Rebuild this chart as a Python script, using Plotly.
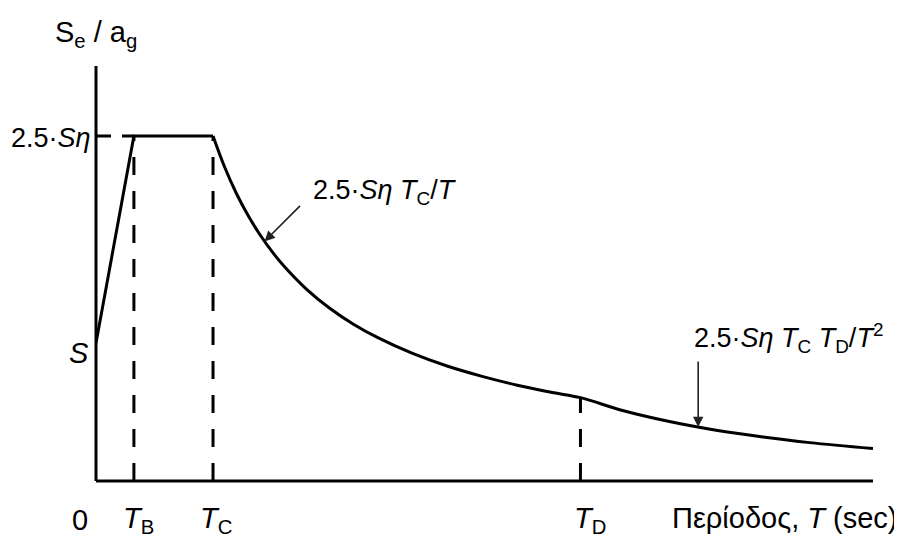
import plotly.graph_objects as go

# ---- data ----
S_VAL = 1.0          # Se/ag at T = 0
PLATEAU = 2.5        # 2.5*S*eta
T_B = 0.162
T_C = 0.50
T_D = 2.07

# linear part: 0 -> T_B -> T_C
T_lin = [0.0, T_B, T_C]
Se_lin = [S_VAL, PLATEAU, PLATEAU]

# descending branch
T_curve = [0.50, 0.55, 0.60, 0.65, 0.70, 0.75, 0.80, 0.90, 1.00, 1.10, 1.20, 1.35,
           1.50, 1.65, 1.80, 1.95, 2.07, 2.25, 2.45, 2.65, 2.85, 3.05, 3.32]
Se_curve = [2.500, 2.273, 2.083, 1.923, 1.786, 1.667, 1.563, 1.389, 1.250, 1.136, 1.042, 0.926,
            0.833, 0.758, 0.694, 0.641, 0.604, 0.511, 0.431, 0.368, 0.319, 0.278, 0.235]
Se_at_TD = 0.604

# arrow targets on the curve
arrow1_T, arrow1_Se = 0.72, 1.736
arrow2_T, arrow2_Se = 2.573, 0.391

x_labels = ["0", "<i>T</i><sub>B</sub>", "<i>T</i><sub>C</sub>", "<i>T</i><sub>D</sub>"]

FONT = "Liberation Sans, Arial, sans-serif"
FS = 29
FS_SMALL = 27
BLACK = "#000000"

fig = go.Figure()

# dashed guide lines
dash = "18px,16px"
for xv, ytop in [(T_B, PLATEAU), (T_C, PLATEAU), (T_D, Se_at_TD)]:
    fig.add_trace(go.Scatter(x=[xv, xv], y=[0, ytop], mode="lines",
                             line=dict(color=BLACK, width=3, dash=dash), hoverinfo="skip"))
fig.add_trace(go.Scatter(x=[0, T_B], y=[PLATEAU, PLATEAU], mode="lines",
                         line=dict(color=BLACK, width=3, dash="15px,11px"), hoverinfo="skip"))

# spectrum
fig.add_trace(go.Scatter(x=T_lin, y=Se_lin, mode="lines",
                         line=dict(color=BLACK, width=3), hoverinfo="skip"))
fig.add_trace(go.Scatter(x=T_curve, y=Se_curve, mode="lines", line_shape="spline",
                         line=dict(color=BLACK, width=3), hoverinfo="skip"))

# page body has an 8px margin, so the figure is 8px smaller and shifted
W, H = 894, 538
ML, MR, MT, MB = 88, 29, 58, 65
X_MAX = 3.32
Y_MAX = 3.007
plot_h = H - MT - MB
plot_w = W - ML - MR

def py(px):   # screen pixel y -> paper y
    return (481 - px) / plot_h

def pxp(px):  # screen pixel x -> paper x
    return (px - 96) / plot_w

ann = []
# axis title (y)
ann.append(dict(text="S<sub>e</sub> / a<sub>g</sub>", xref="paper", yref="paper",
                x=0, y=py(34), xanchor="center", yanchor="middle", showarrow=False))
# y labels
ann.append(dict(text="2.5·<i>Sη</i>", xref="paper", yref="y", x=0, y=PLATEAU,
                xanchor="right", yanchor="middle", xshift=-3, yshift=-2, showarrow=False,
                font=dict(size=FS_SMALL)))
ann.append(dict(text="<i>S</i>", xref="paper", yref="y", x=0, y=S_VAL,
                xanchor="right", yanchor="middle", xshift=-5, yshift=-10, showarrow=False))
# x labels
for lab, xv, xs in zip(x_labels, [0, T_B, T_C, T_D], [-16, 5, 3, 10]):
    ann.append(dict(text=lab, xref="x", yref="paper", x=xv, y=py(520),
                    xanchor="center", yanchor="middle", xshift=xs, showarrow=False))
ann.append(dict(text="Περίοδος, <i>T</i> (sec)", xref="paper", yref="paper",
                x=pxp(900), y=py(518), xanchor="right", yanchor="middle",
                showarrow=False))
# arrows
ann.append(dict(text="", x=arrow1_T, y=arrow1_Se, xref="x", yref="y", showarrow=True,
                ax=37, ay=-37, arrowhead=2, arrowsize=1.3, arrowwidth=1.6, arrowcolor="#222"))
ann.append(dict(text="", x=arrow2_T, y=arrow2_Se, xref="x", yref="y", showarrow=True,
                ax=0, ay=-67, arrowhead=2, arrowsize=1.3, arrowwidth=1.6, arrowcolor="#222"))
ann.append(dict(text="2.5·<i>Sη T</i><sub>C</sub>/<i>T</i>", xref="paper", yref="paper",
                x=pxp(311), y=py(192), xanchor="left", yanchor="middle",
                showarrow=False, font=dict(size=FS_SMALL)))
ann.append(dict(text="2.5·<i>Sη T</i><sub>C</sub> <i>T</i><sub>D</sub>/<i>T</i><sup>2</sup>",
                xref="paper", yref="paper",
                x=pxp(692), y=py(338), xanchor="left", yanchor="middle",
                showarrow=False, font=dict(size=FS_SMALL)))

shapes = [
    dict(type="line", xref="paper", yref="paper", x0=0, x1=0, y0=0, y1=1,
         line=dict(color=BLACK, width=3)),
    dict(type="line", xref="paper", yref="paper", x0=0, x1=1, y0=0, y1=0,
         line=dict(color=BLACK, width=3)),
]

fig.update_layout(
    width=W, height=H,
    margin=dict(l=ML, r=MR, t=MT, b=MB, pad=0),
    paper_bgcolor="white", plot_bgcolor="white",
    showlegend=False,
    font=dict(family=FONT, size=FS, color=BLACK),
    xaxis=dict(range=[0, X_MAX], visible=False, fixedrange=True),
    yaxis=dict(range=[0, Y_MAX], visible=False, fixedrange=True),
    annotations=ann,
    shapes=shapes,
)

fig.write_html("out.html")
